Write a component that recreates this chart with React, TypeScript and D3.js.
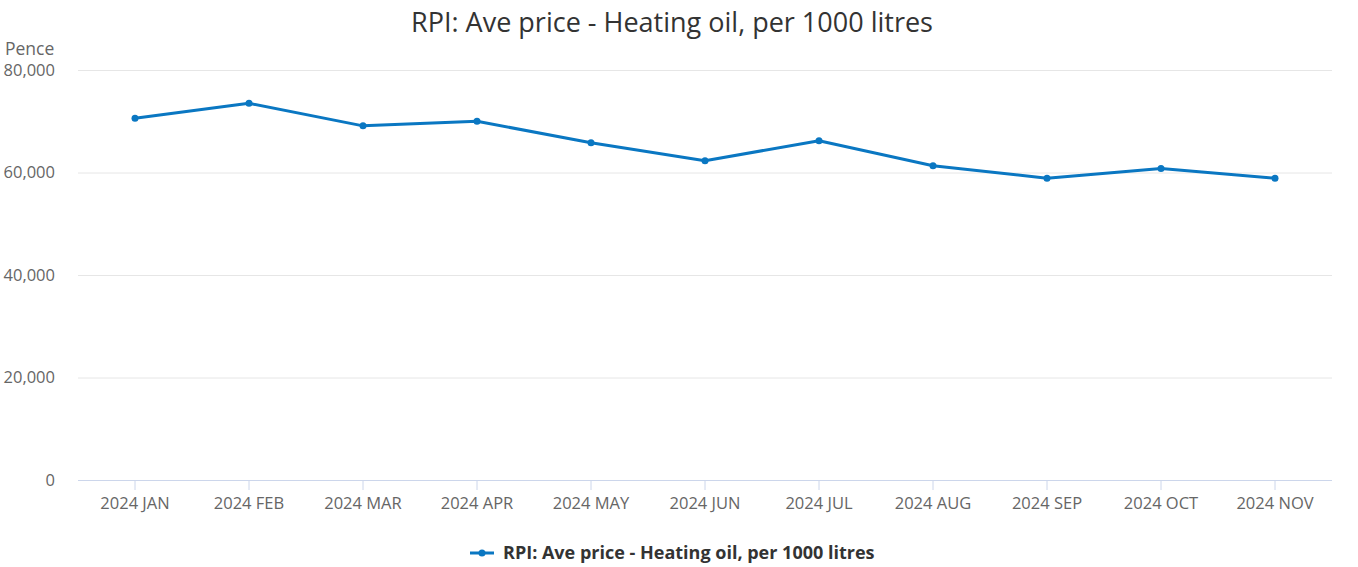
import React from "react";
import * as d3 from "d3";

// Monthly average price, pence per 1000 litres
const months = [
  "2024 JAN",
  "2024 FEB",
  "2024 MAR",
  "2024 APR",
  "2024 MAY",
  "2024 JUN",
  "2024 JUL",
  "2024 AUG",
  "2024 SEP",
  "2024 OCT",
  "2024 NOV",
];
const prices = [70600, 73500, 69100, 70000, 65800, 62300, 66200, 61300, 58900, 60800, 58900];
const yTicks = [0, 20000, 40000, 60000, 80000];

const seriesName = "RPI: Ave price - Heating oil, per 1000 litres";

const width = 1358;
const height = 567;
const margin = { top: 70, right: 26, bottom: 87, left: 78 };
const font = "'Open Sans', sans-serif";
const blue = "#0a77c2";

const App = () => {
  const x = d3
    .scaleBand()
    .domain(months)
    .range([margin.left, width - margin.right]);
  const y = d3
    .scaleLinear()
    .domain([0, 80000])
    .range([height - margin.bottom, margin.top]);

  const cx = (m: string) => (x(m) ?? 0) + x.bandwidth() / 2;
  const data = months.map((m, i) => ({ m, v: prices[i] }));

  const line = d3
    .line<{ m: string; v: number }>()
    .x((d) => cx(d.m))
    .y((d) => y(d.v));

  const fmt = d3.format(",");
  const baseY = y(0);

  return (
    <svg
      width={width}
      height={height}
      style={{ position: "absolute", left: 0, top: 0, fontFamily: font }}
    >
      <rect width={width} height={height} fill="#fff" />
      <text x={672} y={32} textAnchor="middle" fontSize={27} fill="#333">
        {seriesName}
      </text>

      {/* value axis */}
      <text x={5} y={55} fontSize={17.5} fill="#666">
        Pence
      </text>
      {yTicks.map((t) => (
        <g key={t}>
          {t > 0 && (
            <line
              x1={margin.left}
              x2={width - margin.right}
              y1={y(t) + 0.5}
              y2={y(t) + 0.5}
              stroke="#e6e6e6"
            />
          )}
          <text
            x={55}
            y={y(t)}
            dy="0.35em"
            textAnchor="end"
            fontSize={16.5}
            fill="#666"
          >
            {fmt(t)}
          </text>
        </g>
      ))}

      {/* category axis */}
      <line
        x1={margin.left}
        x2={width - margin.right}
        y1={baseY + 0.5}
        y2={baseY + 0.5}
        stroke="#ccd6eb"
      />
      {months.map((m) => (
        <g key={m}>
          <line
            x1={cx(m)}
            x2={cx(m)}
            y1={baseY}
            y2={baseY + 10}
            stroke="#ccd6eb"
          />
          <text
            x={cx(m)}
            y={baseY + 23}
            dy="0.35em"
            textAnchor="middle"
            fontSize={16.5}
            fill="#666"
          >
            {m}
          </text>
        </g>
      ))}

      <path
        d={line(data) ?? ""}
        fill="none"
        stroke={blue}
        strokeWidth={3}
        strokeLinejoin="round"
        strokeLinecap="round"
      />
      {data.map((d) => (
        <circle key={d.m} cx={cx(d.m)} cy={y(d.v)} r={3.5} fill={blue} />
      ))}

      {/* legend */}
      <g transform="translate(470,553)">
        <line x1={0} x2={24} y1={0} y2={0} stroke={blue} strokeWidth={3} />
        <circle cx={12} cy={0} r={3.5} fill={blue} />
        <text x={33} y={0} dy="0.35em" fontSize={18} fontWeight="bold" fill="#333">
          {seriesName}
        </text>
      </g>
    </svg>
  );
};

export default App;
